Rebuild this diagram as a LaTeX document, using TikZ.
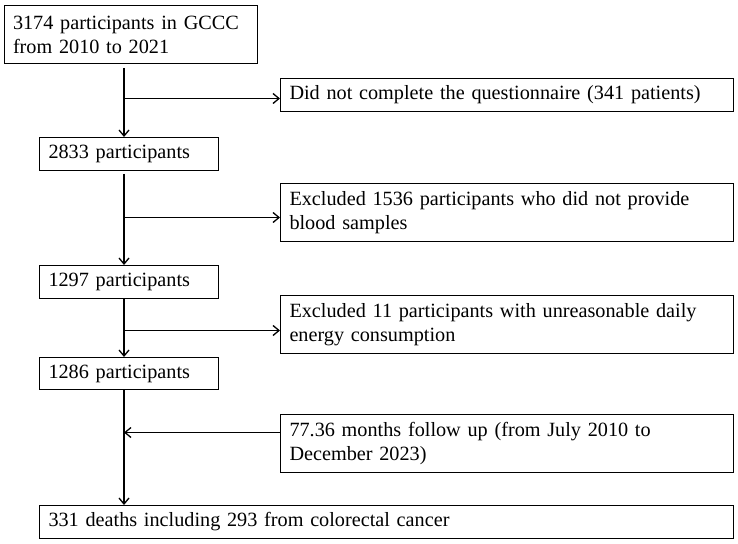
\documentclass[tikz,border=0pt]{standalone}
\usepackage{fontspec}
\setmainfont{Liberation Serif}
\usetikzlibrary{arrows.meta}

\begin{document}
\begin{tikzpicture}[x=1bp, y=-1bp,
    box/.style={draw, line width=1bp, anchor=north west, align=left,
        inner xsep=9bp, inner ysep=0bp, font=\fontsize{20.3}{24}\selectfont},
    flow/.style={line width=1.3bp, -{Straight Barb[length=6bp,width=10bp]}}]
    \useasboundingbox (0,0) rectangle (738,544);
    % main column
    \node[box, text width=235bp, minimum height=58bp] (n1) at (3.5,5) {3174 participants in GCCC\\from 2010 to 2021};
    \node[box, text width=161bp, minimum height=33bp] (n2) at (39,137) {2833 participants};
    \node[box, text width=161bp, minimum height=33bp] (n3) at (39,265) {1297 participants};
    \node[box, text width=161bp, minimum height=32bp] (n4) at (39,357) {1286 participants};
    \node[box, text width=676bp, minimum height=33bp] (n5) at (39,505) {331 deaths including 293 from colorectal cancer};
    % side boxes
    \node[box, text width=435bp, minimum height=33bp] (e1) at (280,78) {Did not complete the questionnaire (341 patients)};
    \node[box, text width=435bp, minimum height=58bp] (e2) at (280,183) {Excluded 1536 participants who did not provide\\blood samples};
    \node[box, text width=435bp, minimum height=58bp] (e3) at (280,295) {Excluded 11 participants with unreasonable daily\\energy consumption};
    \node[box, text width=435bp, minimum height=58bp] (f1) at (280,414) {77.36 months follow up (from July 2010 to\\December 2023)};
    \coordinate (trunk) at (124,0);
    % arrows
    \draw[flow] ([yshift=-4bp]n1.south -| trunk) -- (n2.north -| trunk);
    \draw[flow] ([yshift=-3.5bp]e1.west -| trunk) -- ([yshift=-3.5bp]e1.west);
    \draw[flow] ([yshift=-3bp]n2.south -| trunk) -- (n3.north -| trunk);
    \draw[flow] ([yshift=-5bp]e2.west -| trunk) -- ([yshift=-5bp]e2.west);
    \draw[flow] (n3.south -| trunk) -- (n4.north -| trunk);
    \draw[flow] ([yshift=-6bp]e3.west -| trunk) -- ([yshift=-6bp]e3.west);
    \draw[flow] (n4.south -| trunk) -- (n5.north -| trunk);
    \draw[flow] ([yshift=11bp]f1.west) -- ([yshift=11bp]f1.west -| trunk);
\end{tikzpicture}
\end{document}
